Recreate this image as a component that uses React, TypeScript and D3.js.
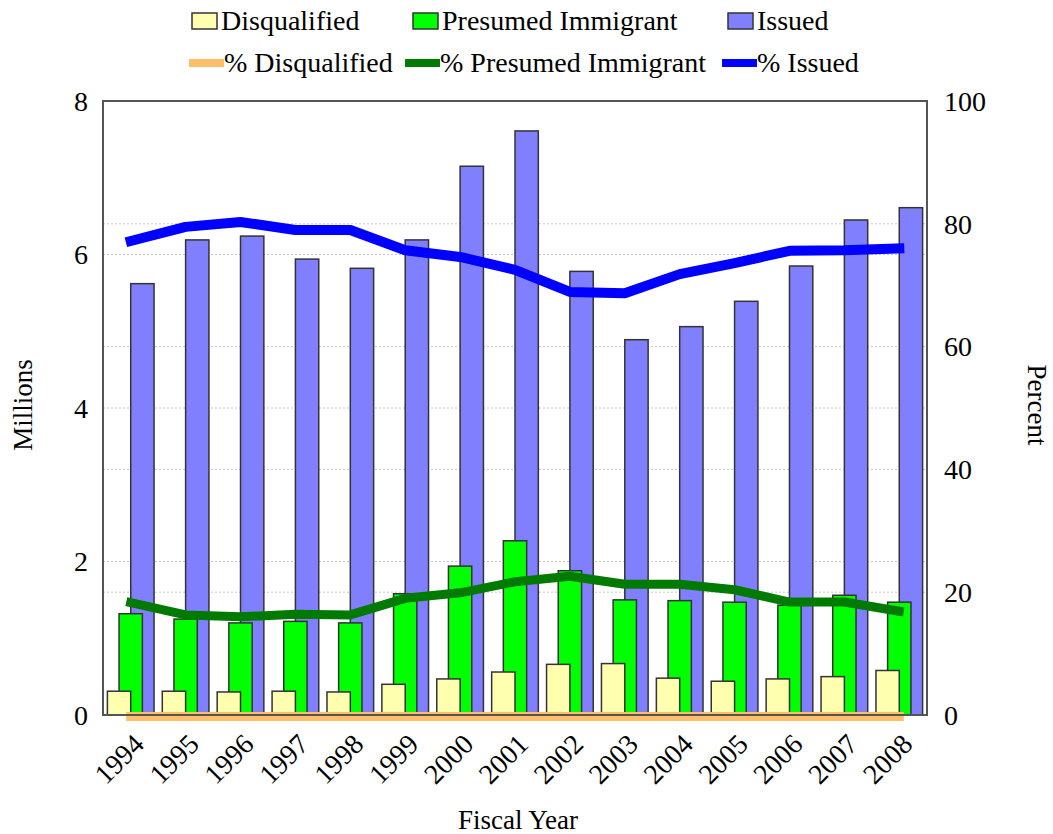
import * as d3 from "d3";

const years = ["1994", "1995", "1996", "1997", "1998", "1999", "2000", "2001", "2002", "2003", "2004", "2005", "2006", "2007", "2008"];
// millions
const disqualified = [0.31, 0.31, 0.3, 0.31, 0.3, 0.4, 0.47, 0.56, 0.66, 0.67, 0.48, 0.44, 0.47, 0.5, 0.58];
const presumedImmigrant = [1.32, 1.25, 1.2, 1.22, 1.2, 1.58, 1.94, 2.27, 1.88, 1.5, 1.49, 1.47, 1.43, 1.56, 1.47];
const issued = [5.62, 6.19, 6.24, 5.94, 5.82, 6.19, 7.15, 7.61, 5.78, 4.89, 5.06, 5.39, 5.85, 6.45, 6.61];
// percent
const pctDisqualified = [0, 0, 0, 0, 0, 0, 0, 0, 0, 0, 0, 0, 0, 0, 0];
const pctPresumed = [18.3, 16.3, 16.0, 16.4, 16.3, 19.0, 19.9, 21.7, 22.6, 21.3, 21.3, 20.4, 18.4, 18.4, 16.9];
const pctIssued = [77.2, 79.5, 80.3, 79.0, 79.0, 75.7, 74.6, 72.5, 68.9, 68.7, 71.8, 73.6, 75.6, 75.7, 76.0];

const leftTicks = [0, 2, 4, 6, 8];
const rightTicks = [0, 20, 40, 60, 80, 100];

const W = 1053;
const H = 834;
const plot = { left: 103, right: 927, top: 101, bottom: 715 };
const FONT = "'Liberation Serif', 'Times New Roman', serif";

const C = {
  disq: "#FFFFB0",
  pres: "#00FF00",
  iss: "#8080FF",
  pctDisq: "#FFBF6A",
  pctPres: "#007A00",
  pctIss: "#0000FF",
};

export default function App() {
  const x = d3.scaleBand<string>().domain(years).range([plot.left, plot.right]).paddingInner(0.15).paddingOuter(0.08);
  const yL = d3.scaleLinear().domain([0, 8]).range([plot.bottom, plot.top]);
  const yR = d3.scaleLinear().domain([0, 100]).range([plot.bottom, plot.top]);
  const bw = x.bandwidth() / 2;
  const cx = (i: number) => (x(years[i]) ?? 0) + x.bandwidth() / 2;

  const line = (vals: number[]) =>
    d3
      .line<number>()
      .x((_, i) => cx(i))
      .y((v) => yR(v))(vals) ?? "";

  const barSeries = [
    { vals: issued, fill: C.iss, off: bw },
    { vals: presumedImmigrant, fill: C.pres, off: bw / 2 },
    { vals: disqualified, fill: C.disq, off: 0 },
  ];

  const legendRow1 = [
    { label: "Disqualified", fill: C.disq, x: 192 },
    { label: "Presumed Immigrant", fill: C.pres, x: 413 },
    { label: "Issued", fill: C.iss, x: 728 },
  ];
  const legendRow2 = [
    { label: "% Disqualified", stroke: C.pctDisq, x: 189 },
    { label: "% Presumed Immigrant", stroke: C.pctPres, x: 405 },
    { label: "% Issued", stroke: C.pctIss, x: 722 },
  ];

  return (
    <svg width={W} height={H} style={{ position: "absolute", left: 0, top: 0, background: "#fff" }} fontFamily={FONT}>
      {/* gridlines */}
      {leftTicks.slice(1, -1).map((t) => (
        <line key={"gl" + t} x1={plot.left} x2={plot.right} y1={yL(t)} y2={yL(t)} stroke="#c8c8c8" strokeDasharray="2,2" />
      ))}
      {rightTicks.slice(1, -1).map((t) => (
        <line key={"gr" + t} x1={plot.left} x2={plot.right} y1={yR(t)} y2={yR(t)} stroke="#c8c8c8" strokeDasharray="2,2" />
      ))}

      {/* bars */}
      {barSeries.map((s, si) =>
        s.vals.map((v, i) => (
          <rect
            key={si + "-" + i}
            x={(x(years[i]) ?? 0) + s.off}
            y={yL(v)}
            width={bw}
            height={plot.bottom - yL(v)}
            fill={s.fill}
            stroke="#333"
            strokeWidth={1.5}
          />
        ))
      )}

      {/* % disqualified sits under the frame */}
      <path d={line(pctDisqualified)} transform="translate(0,1.5)" fill="none" stroke={C.pctDisq} strokeWidth={9} strokeLinecap="square" />

      {/* frame */}
      <rect x={plot.left} y={plot.top} width={plot.right - plot.left} height={plot.bottom - plot.top} fill="none" stroke="#555" strokeWidth={2} />

      {/* lines */}
      <path d={line(pctPresumed)} fill="none" stroke={C.pctPres} strokeWidth={9} strokeLinecap="square" strokeLinejoin="round" />
      <path d={line(pctIssued)} fill="none" stroke={C.pctIss} strokeWidth={10} strokeLinecap="square" strokeLinejoin="round" />

      {/* axis labels */}
      {leftTicks.map((t) => (
        <text key={"lt" + t} x={88} y={yL(t)} dy="0.35em" textAnchor="end" fontSize={28}>
          {t}
        </text>
      ))}
      {rightTicks.map((t) => (
        <text key={"rt" + t} x={944} y={yR(t)} dy="0.35em" textAnchor="start" fontSize={28}>
          {t}
        </text>
      ))}

      {/* year labels */}
      {years.map((yv, i) => (
        <text key={"x" + yv} transform={`translate(${cx(i) + 8},${plot.bottom + 24}) rotate(-45)`} textAnchor="end" dy="0.35em" fontSize={28}>
          {yv}
        </text>
      ))}

      {/* axis titles */}
      <text x={518} y={829} textAnchor="middle" fontSize={27}>
        Fiscal Year
      </text>
      <text transform={`translate(32,405) rotate(-90)`} textAnchor="middle" fontSize={27}>
        Millions
      </text>
      <text transform={`translate(1028,405) rotate(90)`} textAnchor="middle" fontSize={27}>
        Percent
      </text>

      {/* legend */}
      {legendRow1.map((l) => (
        <g key={l.label}>
          <rect x={l.x} y={13} width={25} height={16} fill={l.fill} stroke="#333" strokeWidth={1.5} />
          <text x={l.x + 29} y={30} fontSize={28}>
            {l.label}
          </text>
        </g>
      ))}
      {legendRow2.map((l) => (
        <g key={l.label}>
          <line x1={l.x} x2={l.x + 35} y1={63} y2={63} stroke={l.stroke} strokeWidth={8} />
          <text x={l.x + 35} y={72} fontSize={28}>
            {l.label}
          </text>
        </g>
      ))}
    </svg>
  );
}
